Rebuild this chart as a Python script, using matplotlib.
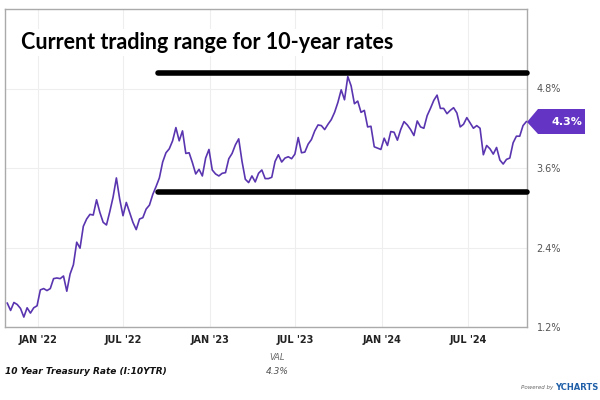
import pandas as pd
import matplotlib.pyplot as plt
from matplotlib.patches import Polygon

# weekly (Friday) 10-year treasury yield, %
dates = pd.date_range("2021-10-29", "2024-11-01", freq="W-FRI")
rates_2021 = [1.56, 1.45, 1.57, 1.54, 1.48, 1.35, 1.49, 1.41, 1.49, 1.52]
rates_2022 = [1.76, 1.78, 1.75, 1.78, 1.93, 1.94, 1.93, 1.97, 1.74, 2.00, 2.14, 2.48,
              2.39, 2.72, 2.83, 2.90, 2.89, 3.12, 2.93, 2.78, 2.74, 2.94, 3.16, 3.45,
              3.13, 2.88, 3.08, 2.93, 2.78, 2.67, 2.83, 2.85, 2.98, 3.04, 3.20, 3.32,
              3.45, 3.69, 3.83, 3.89, 4.01, 4.21, 4.01, 4.16, 3.82, 3.83, 3.68, 3.51,
              3.58, 3.48, 3.75, 3.88]
rates_2023 = [3.57, 3.51, 3.48, 3.52, 3.53, 3.74, 3.82, 3.95, 4.04, 3.70, 3.43, 3.38,
              3.48, 3.39, 3.52, 3.57, 3.44, 3.44, 3.46, 3.70, 3.80, 3.69, 3.75, 3.77,
              3.74, 3.81, 4.06, 3.83, 3.84, 3.96, 4.03, 4.16, 4.25, 4.24, 4.18, 4.26,
              4.33, 4.44, 4.59, 4.78, 4.63, 4.98, 4.84, 4.57, 4.61, 4.44, 4.47, 4.22,
              4.23, 3.92, 3.90, 3.88]
rates_2024 = [4.05, 3.94, 4.15, 4.14, 4.02, 4.18, 4.30, 4.25, 4.18, 4.09, 4.31, 4.22,
              4.20, 4.39, 4.50, 4.62, 4.70, 4.50, 4.50, 4.42, 4.47, 4.51, 4.43, 4.22,
              4.26, 4.36, 4.28, 4.20, 4.24, 4.20, 3.80, 3.94, 3.89, 3.81, 3.91, 3.72,
              3.66, 3.73, 3.75, 3.98, 4.08, 4.08, 4.24, 4.30]
rates = rates_2021 + rates_2022 + rates_2023 + rates_2024

# trading range lines drawn on the chart
range_start = pd.Timestamp("2022-09-13")
range_end = pd.Timestamp("2024-11-02")
range_levels = [5.03, 3.24]

yticks = [1.2, 2.4, 3.6, 4.8]
xticks = pd.to_datetime(["2022-01-01", "2022-07-01", "2023-01-01",
                         "2023-07-01", "2024-01-01", "2024-07-01"])
xtick_labels = ["JAN '22", "JUL '22", "JAN '23", "JUL '23", "JAN '24", "JUL '24"]

purple = "#5a35b0"
fig = plt.figure(figsize=(6, 4), dpi=100)
ax = fig.add_axes([0.009, 0.1825, 0.869, 0.795])

ax.plot(dates, rates, color=purple, lw=1.2, zorder=3)
for lvl in range_levels:
    ax.plot([range_start, range_end], [lvl, lvl], color="black", lw=4,
            solid_capstyle="round", zorder=4, clip_on=False)

ax.set_xlim(pd.Timestamp("2021-10-25"), range_end)
ax.set_ylim(1.2, 6.0)
ax.set_yticks(yticks)
ax.set_yticklabels([f"{v:.1f}%" for v in yticks])
ax.set_xticks(xticks)
ax.set_xticklabels(xtick_labels, fontweight="bold", color="#222222")
ax.yaxis.tick_right()
ax.tick_params(axis="both", length=0, labelsize=7)
ax.tick_params(axis="y", pad=7, labelcolor="#555555")
ax.tick_params(axis="x", pad=6)
ax.grid(True, color="#eeeeee", lw=0.8)
ax.set_axisbelow(True)
for s in ax.spines.values():
    s.set_color("#aaaaaa")
    s.set_linewidth(1)

ax.text(0.03, 0.895, "Current trading range for 10-year rates", transform=ax.transAxes,
        fontsize=15.5, fontweight="bold", fontfamily="Lato", va="center", ha="left",
        bbox=dict(facecolor="white", edgecolor="none", pad=2), zorder=5)

# last value tag
last = rates[-1]
fig_tag = Polygon([[527, 278], [538, 291], [585, 291], [585, 266], [538, 266]],
                  closed=True, transform=None, facecolor="#6434c4", edgecolor="none")
fig.patches.append(fig_tag)
fig.text(567 / 600, 1 - 122 / 400, f"{last:.1f}%", color="white", fontsize=8,
         fontweight="bold", ha="center", va="center")

fig.text(277 / 600, 1 - 357 / 400, "VAL", fontsize=6, style="italic",
         color="#666666", ha="center", va="center")
fig.text(5 / 600, 1 - 372 / 400, "10 Year Treasury Rate (I:10YTR)", fontsize=6.5,
         style="italic", fontweight="bold", color="#111111", ha="left", va="center")
fig.text(277 / 600, 1 - 372 / 400, f"{last:.1f}%", fontsize=6.5, style="italic",
         color="#555555", ha="center", va="center")
fig.text(553 / 600, 1 - 388 / 400, "Powered by", fontsize=4, style="italic",
         color="#666666", ha="right", va="center")
fig.text(555 / 600, 1 - 388 / 400, "YCHARTS", fontsize=6, fontweight="bold",
         color="#1f5fa8", ha="left", va="center")

fig.savefig("out.png", dpi=100)
